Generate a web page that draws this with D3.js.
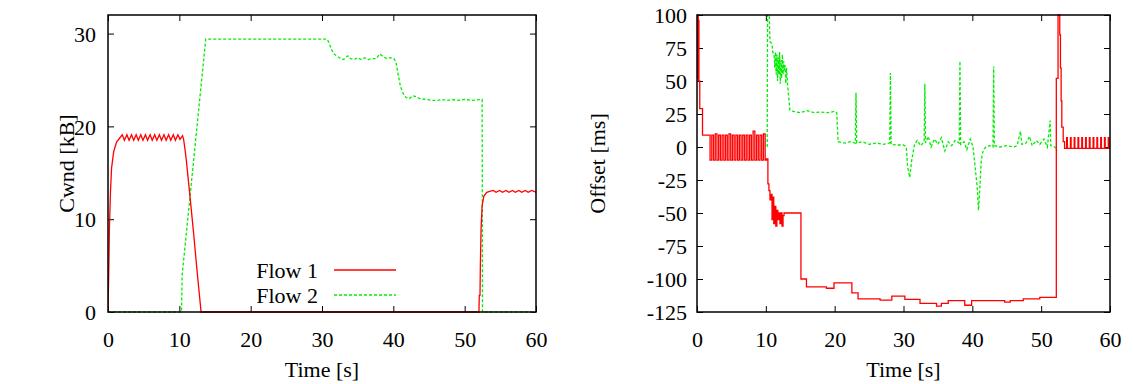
<!DOCTYPE html>
<html><head><meta charset="utf-8">
<script src="https://cdn.jsdelivr.net/npm/d3@7"></script>
<style>
body{margin:0;background:#fff;}
svg text{font-family:"Liberation Serif","Times New Roman",serif !important;fill:#000;}
</style></head>
<body><svg id="c" width="1133" height="384"></svg>
<script>
// ---- data ----
const xTicks = [0,10,20,30,40,50,60];
const cwndTicks = [0,10,20,30];
const offsetTicks = [-125,-100,-75,-50,-25,0,25,50,75,100];
const seriesNames = ["Flow 1","Flow 2"];

// Left chart: Cwnd [kB] vs time [s]
const cwndFlow1 = [[0,0],[0.1,4],[0.2,9],[0.35,13],[0.5,15.5],[0.8,17.3],[1.2,18.3],[1.7,18.8],
 [2.0,19.1],[2.3,18.5],[2.65,19.1],[2.95,18.5],[3.3,19.1],[3.6,18.5],[3.95,19.1],[4.25,18.5],
 [4.6,19.1],[4.9,18.5],[5.25,19.1],[5.55,18.5],[5.9,19.1],[6.2,18.5],[6.55,19.1],[6.85,18.5],
 [7.2,19.1],[7.5,18.5],[7.85,19.1],[8.15,18.5],[8.5,19.1],[8.8,18.5],[9.15,19.1],[9.45,18.5],
 [9.8,19.1],[10.1,18.6],[10.45,19.0],[10.6,18.6],[10.8,17.5],[11.0,16.2],[11.5,12.4],[12.0,8.5],
 [12.5,4.3],[13.05,0],[52.0,0],[52.05,1.8],[52.15,1.8],[52.2,5],[52.3,9],[52.45,11.5],[52.7,12.5],
 [53.1,12.9],[53.5,13.0],[54.0,13.1],[54.4,12.9],[54.9,13.1],[55.3,12.9],[55.8,13.1],[56.2,12.9],
 [56.7,13.1],[57.1,12.9],[57.6,13.1],[58.0,12.9],[58.5,13.1],[58.9,12.9],[59.4,13.1],[60,12.9]];
const cwndFlow2 = [[0,0],[10.3,0],[10.4,4],[13.7,29.4],[30.7,29.4],[31.0,29.0],[31.3,28.3],[31.7,27.8],
 [32.2,27.5],[32.6,27.3],[33.0,27.2],[33.6,27.6],[34.0,27.3],[34.5,27.2],[35.0,27.4],[35.5,27.2],
 [36.0,27.4],[36.5,27.2],[37.0,27.3],[37.6,27.3],[38.1,27.8],[38.6,27.5],[39.1,27.3],[39.6,27.4],
 [40.1,27.3],[40.4,26.8],[40.7,25.5],[41.0,24.3],[41.4,23.5],[41.8,23.1],[42.3,23.0],[42.7,23.3],
 [43.2,23.2],[43.7,23.0],[44.5,22.9],[45.5,22.8],[46.2,22.8],[46.8,22.9],[47.5,22.8],[48.2,22.9],
 [49.0,22.8],[50.0,22.9],[51.0,22.8],[52.45,22.9],[52.5,0],[60,0]];

// Right chart: Offset [ms] vs time [s]
const offsetFlow1 = [[0,100],[0.08,52],[0.12,100],[0.18,50],[0.22,96],[0.28,50],[0.4,29],[0.8,9],
 [1.9,-10],[2.15,9],[2.4,-10],[2.65,10],[2.9,-10],[3.15,9],[3.4,-10],[3.65,9],[3.9,-10],[4.15,9],
 [4.4,-10],[4.65,10],[4.9,-10],[5.15,9],[5.4,-10],[5.65,9],[5.9,-10],[6.15,9],[6.4,-10],[6.65,9],
 [6.9,-10],[7.15,9],[7.4,-10],[7.65,9],[7.9,-10],[8.15,12],[8.4,-10],[8.65,9],[8.9,-10],[9.15,9],
 [9.4,-10],[9.65,10],[9.9,-10],[10.1,-9],[10.3,-28],[10.45,-33],[10.6,-40],[10.75,-36],[10.9,-55],
 [11.0,-38],[11.15,-58],[11.3,-45],[11.45,-60],[11.6,-48],[11.75,-55],[11.9,-50],[12.05,-58],
 [12.2,-50],[12.35,-60],[12.5,-52],[12.65,-50],[13.0,-50],[15.1,-100],[15.9,-106],[18.8,-107],
 [19.9,-103],[22.5,-110.5],[23.4,-115],[26.6,-116],[28.3,-113],[30.2,-115.4],[32.4,-118.4],
 [34.8,-120.5],[35.5,-118.4],[36.5,-116.4],[38.9,-119.9],[39.9,-116.4],[44.7,-117.5],[45.5,-116.4],
 [47.4,-115],[49.8,-113.9],[52.2,52],[52.45,100],[52.7,85],[52.8,60],[52.9,35],[53.0,15],[53.2,4],
 [53.4,-1],[53.7,7],[53.8,-1],[54.25,7],[54.35,-1],[54.8,7],[54.9,-1],[55.35,7],[55.45,-1],
 [55.9,7],[56.0,-1],[56.45,7],[56.55,-1],[57.0,7],[57.1,-1],[57.55,7],[57.65,-1],[58.1,7],
 [58.2,-1],[58.65,7],[58.75,-1],[59.2,7],[59.3,-1],[59.75,7],[59.85,-1],[60,-1]];
const offsetFlow2 = [[10.2,0],[10.25,100],[10.5,100],[10.6,80],[10.9,78],[11.0,72],[11.2,70],
 [11.3,60],[11.4,72],[11.5,55],[11.6,70],[11.7,50],[11.8,68],[11.9,55],[12.0,72],[12.1,48],
 [12.2,66],[12.3,52],[12.4,70],[12.5,55],[12.6,65],[12.7,58],[12.8,62],[12.9,48],[13.0,60],
 [13.2,45],[13.5,28],[14,27],[15,26],[16,27.5],[17,26],[18,26.5],[19,26],[20,27],[20.3,26],
 [20.5,4],[21.5,3],[22.3,4],[23.0,3],[23.1,41],[23.2,3],[24,4],[25,2],[26,3],[27,2],[28.0,3],
 [28.1,56],[28.2,2],[29,1.5],[30,1.5],[30.4,0],[30.6,-15],[30.9,-23],[31.2,-10],[31.6,2],[32,5],
 [32.5,1],[33.0,4],[33.1,48],[33.2,3],[33.6,8],[34,0],[34.5,6],[35,2],[35.5,7],[36,-3],[36.5,4],
 [37,1],[37.5,5],[38.1,3],[38.2,65],[38.3,2],[38.8,4],[39.2,-2],[39.7,6],[40.1,0],[40.4,-15],
 [40.7,-30],[40.9,-48],[41.1,-30],[41.3,-10],[41.6,-2],[42,0],[42.5,1],[43.0,0],[43.1,61],[43.2,1],
 [44,0],[45,1],[46,0],[46.5,1],[47,12],[47.2,2],[47.8,3],[48.3,8],[48.7,1],[49.3,5],[49.8,2],
 [50.4,6],[50.9,0],[51.3,20],[51.4,1],[52,0],[52.3,-3]];

// ---- drawing ----
const svg = d3.select("#c");
const RED = "#ff0000", GREEN = "#00ee00";
const FS = 22;
const SERIF = "Liberation Serif, Times New Roman, serif";
const fmt = d => String(d);

function panel(cfg){
  const g = svg.append("g");
  const x = d3.scaleLinear().domain([0,60]).range([cfg.left,cfg.right]);
  const y = d3.scaleLinear().domain(cfg.yDomain).range([cfg.bottom,cfg.top]);
  const tl = 6;
  const style = a => { a.select(".domain").remove();
    a.attr("font-family",SERIF).attr("font-size",FS);
    a.selectAll("text").attr("font-family",SERIF).attr("font-size",FS).attr("fill","#000"); };
  g.append("g").attr("transform",`translate(0,${cfg.bottom})`)
    .call(d3.axisBottom(x).tickValues(xTicks).tickSize(-tl).tickPadding(14).tickFormat(fmt))
    .call(style).call(a=>a.selectAll("text").attr("dy","0.95em"));
  g.append("g").attr("transform",`translate(0,${cfg.top})`)
    .call(d3.axisTop(x).tickValues(xTicks).tickSize(-tl).tickFormat(""))
    .call(style);
  g.append("g").attr("transform",`translate(${cfg.left},0)`)
    .call(d3.axisLeft(y).tickValues(cfg.yTicks).tickSize(-tl).tickPadding(cfg.ypad).tickFormat(fmt))
    .call(style).call(a=>a.selectAll("text").attr("dy","0.35em"));
  g.append("g").attr("transform",`translate(${cfg.right},0)`)
    .call(d3.axisRight(y).tickValues(cfg.yTicks).tickSize(-tl).tickFormat(""))
    .call(style);
  g.selectAll(".tick line").attr("stroke","#000").attr("stroke-width",1);
  // series
  const clipId = "clip"+cfg.id;
  svg.append("clipPath").attr("id",clipId).append("rect")
    .attr("x",cfg.left).attr("y",cfg.top-1).attr("width",cfg.right-cfg.left).attr("height",cfg.bottom-cfg.top+2);
  cfg.series.forEach(s=>{
    const line = d3.line().x(d=>x(d[0])).y(d=>y(d[1])).curve(s.curve||d3.curveLinear);
    g.append("path").datum(s.data).attr("d",line).attr("fill","none")
      .attr("stroke",s.color).attr("stroke-width",1.3)
      .attr("stroke-dasharray",s.dash||null).attr("clip-path",`url(#${clipId})`);
  });
  // frame on top
  g.append("rect").attr("x",cfg.left).attr("y",cfg.top)
    .attr("width",cfg.right-cfg.left).attr("height",cfg.bottom-cfg.top)
    .attr("fill","none").attr("stroke","#000").attr("stroke-width",1.5);
  // labels
  g.append("text").attr("x",(cfg.left+cfg.right)/2).attr("y",377).attr("text-anchor","middle")
    .attr("font-family",SERIF).attr("font-size",FS).text("Time [s]");
  g.append("text").attr("transform",`translate(${cfg.ylabX},${(cfg.top+cfg.bottom)/2}) rotate(-90)`)
    .attr("text-anchor","middle").attr("dy","0.35em").attr("font-family",SERIF).attr("font-size",FS).text(cfg.ylabel);
  return {g,x,y};
}

const left = panel({id:"L",left:108,right:536,top:15,bottom:312,yDomain:[0,32],yTicks:cwndTicks,ypad:12,
  ylabel:"Cwnd [kB]",ylabX:66,
  series:[{data:cwndFlow2,color:GREEN,dash:"3,2"},{data:cwndFlow1,color:RED}]});
const right = panel({id:"R",left:697,right:1110,top:15,bottom:312,yDomain:[-125,100],yTicks:offsetTicks,ypad:10,
  ylabel:"Offset [ms]",ylabX:597,
  series:[{data:offsetFlow2,color:GREEN,dash:"3,2"},{data:offsetFlow1,color:RED,curve:d3.curveStepAfter}]});

// legend (left chart)
const leg = left.g.append("g");
seriesNames.forEach((n,i)=>{
  const yy = 270 + i*25;
  leg.append("text").attr("x",318).attr("y",yy).attr("dy","0.35em").attr("text-anchor","end")
    .attr("font-family",SERIF).attr("font-size",FS).text(n);
  leg.append("line").attr("x1",334).attr("x2",396).attr("y1",yy).attr("y2",yy)
    .attr("stroke",i===0?RED:GREEN).attr("stroke-width",1.3).attr("stroke-dasharray",i===0?null:"3,2");
});
</script></body></html>
